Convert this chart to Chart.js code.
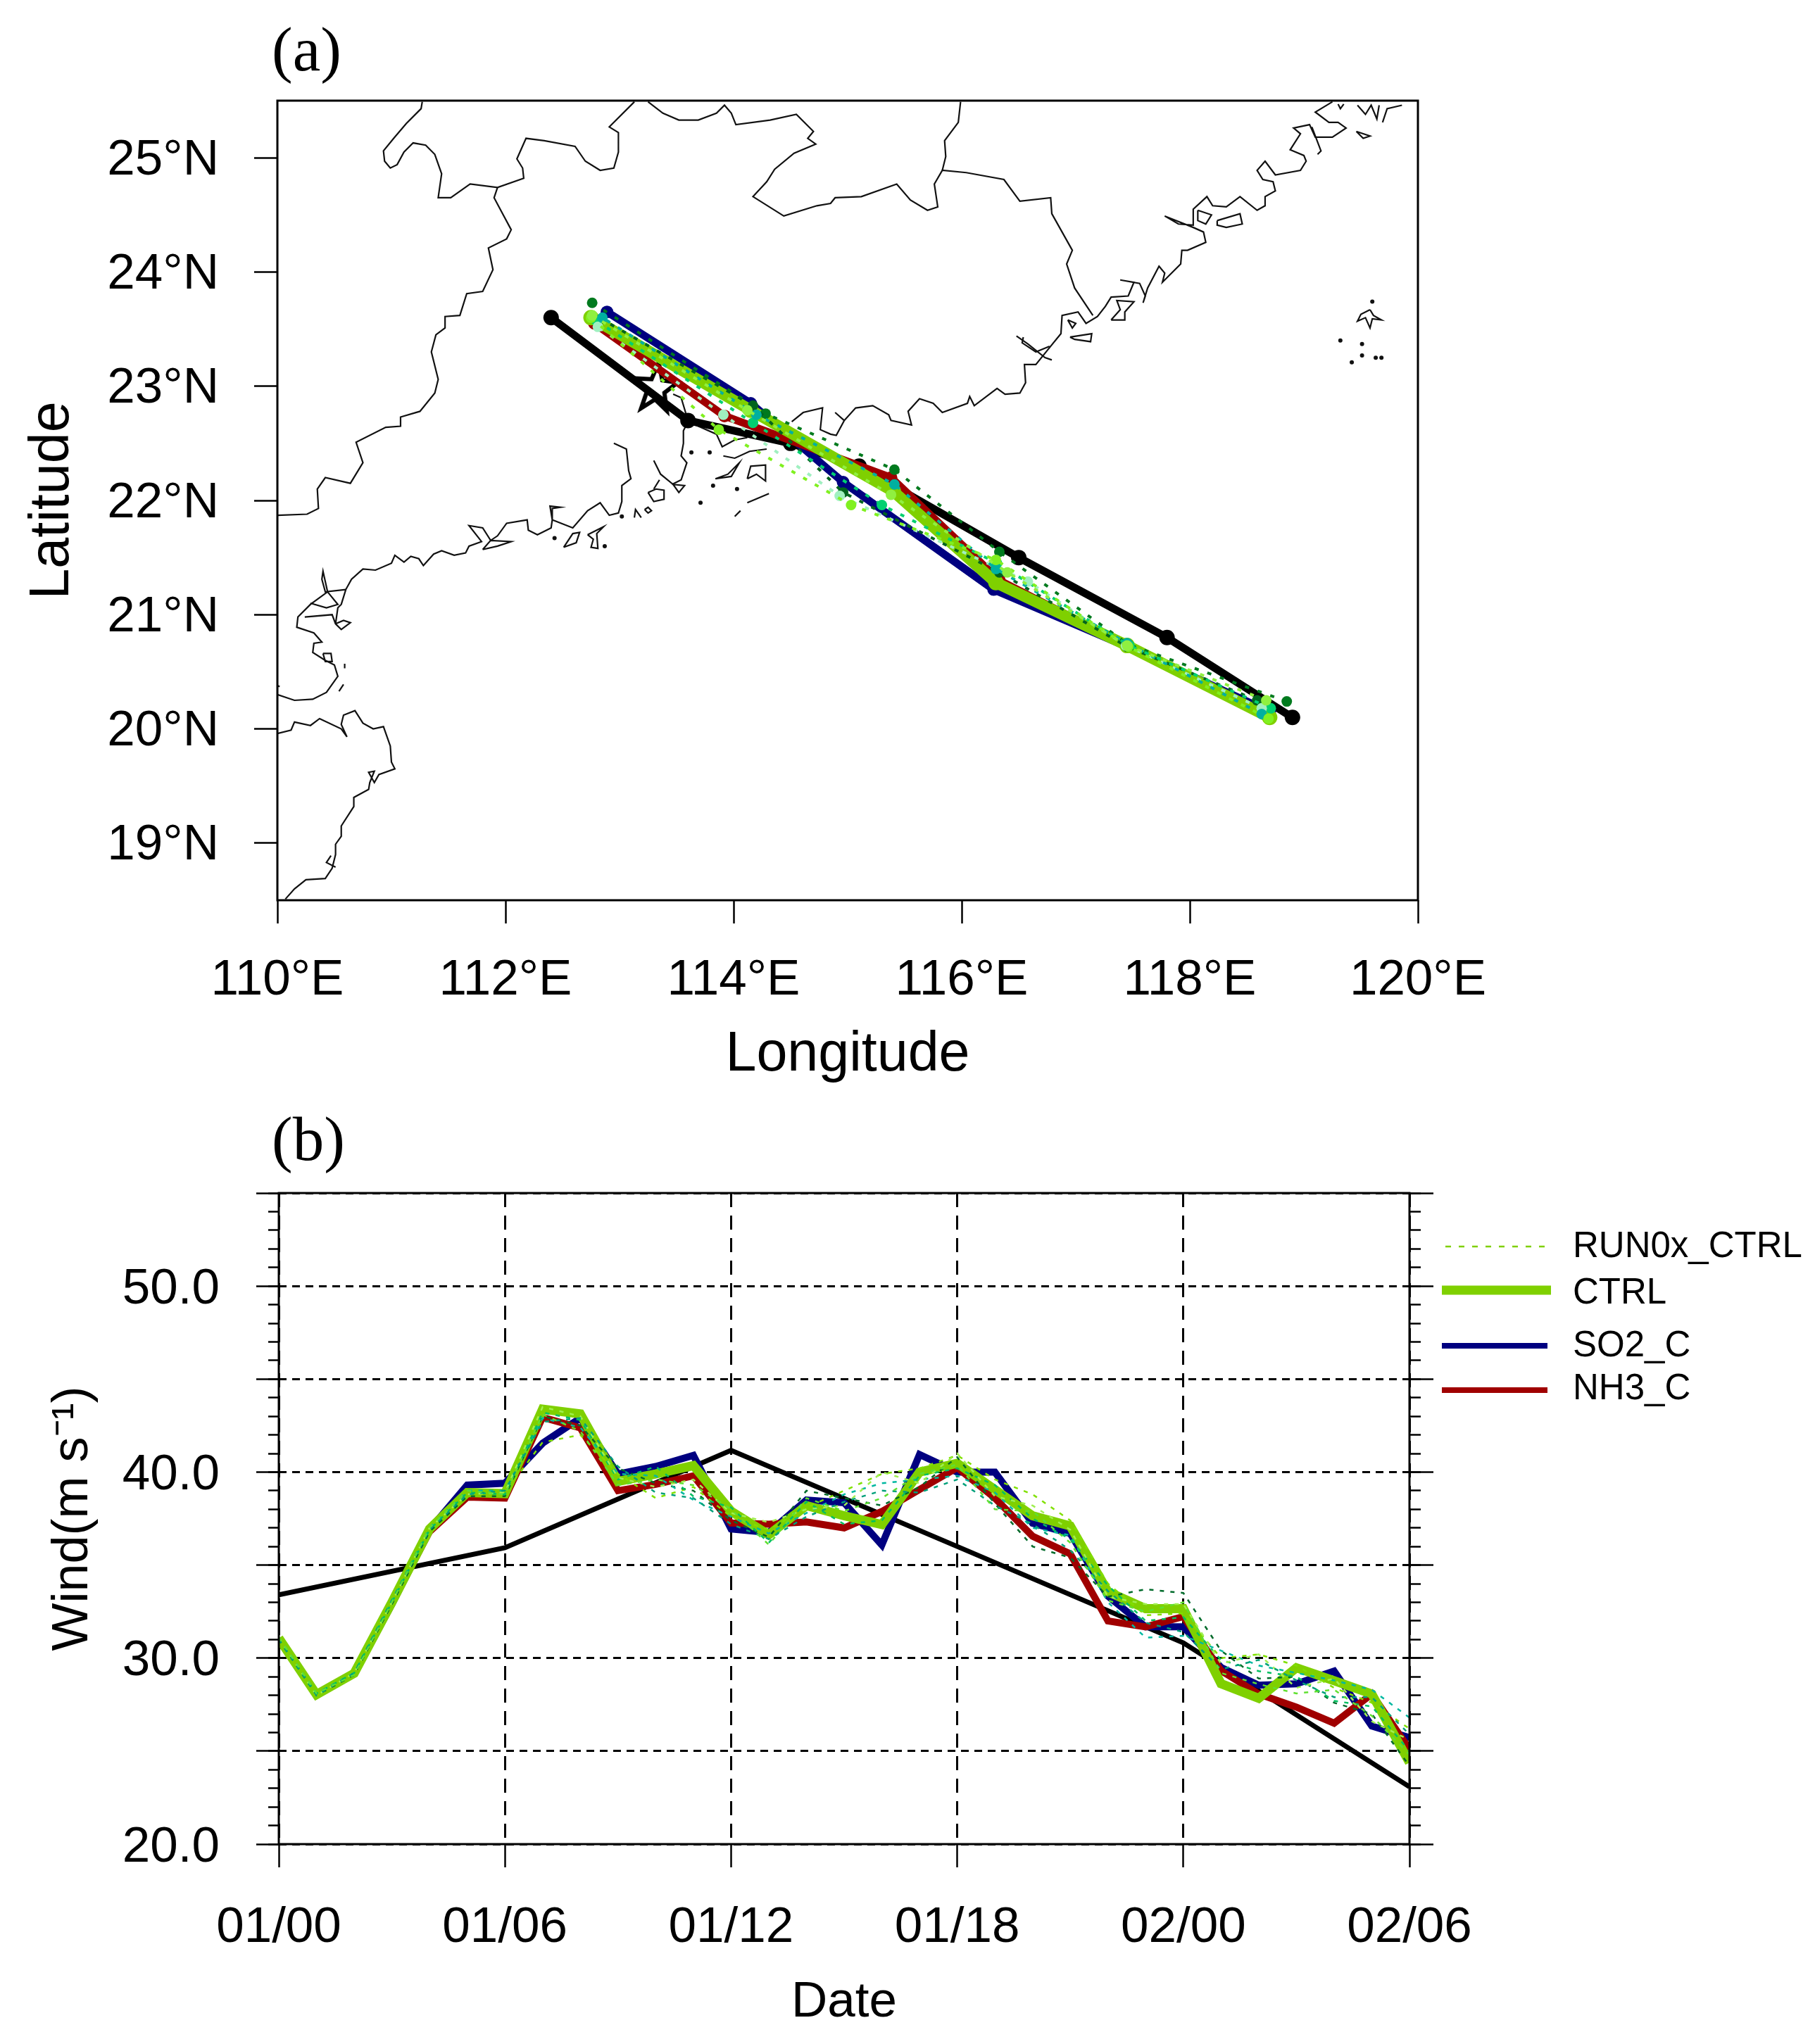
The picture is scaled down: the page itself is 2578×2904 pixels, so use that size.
<!DOCTYPE html>
<html>
<head>
<meta charset="utf-8">
<title>Track and wind</title>
<script src="https://cdn.jsdelivr.net/npm/chart.js@4/dist/chart.umd.js"></script>
<style>
    html, body { margin: 0; padding: 0; background: #fff; }
    canvas { position: absolute; left: 0; }
    #trackChart { top: 0; }
    #windChart { top: 1560px; }
</style>
</head>
<body>
<canvas id="trackChart" width="2578" height="1580"></canvas>
<canvas id="windChart" width="2578" height="1344"></canvas>
<script>
// --- tick labels ---
const lonTicks = [110, 112, 114, 116, 118, 120];
const latTicks = [19, 20, 21, 22, 23, 24, 25];
const dateLabels = ['01/00', '01/06', '01/12', '01/18', '02/00', '02/06'];
const seriesNames = ['RUN0x_CTRL', 'CTRL', 'SO2_C', 'NH3_C'];

// --- panel (a) tracks, lon / lat every 6 h ---
const obsLon = [118.9, 117.8, 116.5, 115.1, 114.5, 113.6, 112.4];
const obsLat = [20.1, 20.8, 21.5, 22.3, 22.5, 22.7, 23.6];
const ctrlLon = [118.7, 117.45, 116.3, 115.4, 114.15, 112.75];
const ctrlLat = [20.1, 20.73, 21.28, 22.08, 22.79, 23.6];
const so2Lon = [118.7, 117.45, 116.28, 114.96, 114.15, 112.89];
const so2Lat = [20.15, 20.72, 21.22, 22.16, 22.85, 23.65];
const nh3Lon = [118.7, 117.45, 116.33, 115.38, 113.92, 112.78];
const nh3Lat = [20.12, 20.73, 21.3, 22.2, 22.74, 23.55];
const landfall = [[113.32, 22.98]];

const runLons = [
    [118.85, 117.46, 116.33, 115.41, 114.28, 112.76],
    [118.59, 117.45, 116.33, 114.96, 114.17, 112.84],
    [118.71, 117.47, 116.31, 115.30, 114.17, 112.80],
    [118.63, 117.44, 116.58, 114.93, 113.91, 112.81],
    [118.63, 117.45, 116.30, 115.41, 114.20, 112.85],
    [118.69, 117.46, 116.30, 115.03, 113.87, 112.75],
    [118.67, 117.45, 116.40, 115.38, 114.12, 112.76]
];
const runLats = [
    [20.24, 20.74, 21.55, 22.27, 22.76, 23.73],
    [20.25, 20.72, 21.37, 22.07, 22.83, 23.59],
    [20.18, 20.73, 21.45, 21.96, 22.68, 23.57],
    [20.18, 20.73, 21.29, 22.04, 22.75, 23.52],
    [20.13, 20.75, 21.40, 22.14, 22.75, 23.60],
    [20.09, 20.72, 21.48, 21.96, 22.62, 23.60],
    [20.25, 20.73, 21.37, 22.05, 22.79, 23.62]
];
const runColors = ['#007a1e', '#00641e', '#00d070', '#a0f0c0', '#00b0a0', '#80f020', '#90f040'];

// --- panel (a) map, [lon, lat] ---
const borderNorthWest = [[111.27,25.49],[111.26,25.43],[111.13,25.30],[111.02,25.17],[110.93,25.06],[110.94,24.97],[110.99,24.91],[111.05,24.94],[111.11,25.05],[111.19,25.13],[111.30,25.11],[111.38,25.03],[111.44,24.86],[111.41,24.65],[111.52,24.65],[111.69,24.77],[111.93,24.74],[112.16,24.82],[112.15,24.91],[112.10,24.99],[112.18,25.17],[112.34,25.15],[112.61,25.10],[112.70,24.97],[112.83,24.89],[112.95,24.91],[112.99,25.05],[112.99,25.22],[112.91,25.27],[113.13,25.49]];
const borderNorth = [[113.25,25.49],[113.38,25.39],[113.52,25.33],[113.69,25.33],[113.85,25.39],[113.92,25.46],[113.98,25.39],[114.02,25.29],[114.32,25.33],[114.55,25.38],[114.70,25.23],[114.65,25.17],[114.72,25.12],[114.53,25.04],[114.36,24.90],[114.29,24.79],[114.17,24.66],[114.44,24.49],[114.73,24.58],[114.85,24.60],[114.89,24.65],[115.12,24.66],[115.43,24.77],[115.55,24.63],[115.70,24.54],[115.79,24.57],[115.76,24.77],[115.83,24.89],[116.04,24.87],[116.37,24.81],[116.51,24.62],[116.78,24.65],[116.79,24.51],[116.97,24.19],[116.92,24.07],[116.99,23.86],[117.15,23.62]];
const borderNorthEast = [[115.83,24.89],[115.86,25.01],[115.85,25.15],[115.97,25.31],[115.99,25.49]];
const borderWest = [[111.93,24.74],[111.90,24.65],[111.98,24.50],[112.05,24.37],[112.01,24.29],[111.85,24.21],[111.89,24.02],[111.80,23.83],[111.66,23.81],[111.60,23.62],[111.47,23.61],[111.47,23.51],[111.39,23.45],[111.35,23.30],[111.41,23.06],[111.38,22.94],[111.25,22.78],[111.08,22.73],[111.08,22.65],[110.95,22.64],[110.69,22.51],[110.75,22.33],[110.64,22.15],[110.42,22.20],[110.35,22.10],[110.36,21.93],[110.26,21.88],[110.00,21.87]];
const coastWest = [[112.95,22.50],[113.06,22.45],[113.08,22.26],[113.10,22.19],[113.02,22.13],[113.02,21.99],[112.99,21.89],[112.91,21.87],[112.83,21.98],[112.72,21.91],[112.59,21.76],[112.41,21.83],[112.41,21.93],[112.48,21.94],[112.39,21.95],[112.41,21.83],[112.40,21.76],[112.28,21.70],[112.20,21.74],[112.19,21.83],[112.01,21.80],[111.93,21.69],[111.87,21.65],[111.80,21.76],[111.68,21.78],[111.79,21.64],[111.68,21.60],[111.65,21.54],[111.55,21.52],[111.44,21.56],[111.37,21.53],[111.28,21.43],[111.24,21.49],[111.17,21.51],[111.11,21.46],[111.03,21.52],[111.00,21.45],[110.86,21.39],[110.75,21.40],[110.65,21.31],[110.60,21.22],[110.56,21.09],[110.53,21.06],[110.51,20.92]];
const coastLeizhou = [[110.60,21.22],[110.42,21.20],[110.39,21.31],[110.40,21.38],[110.44,21.20],[110.29,21.09],[110.18,20.98],[110.17,20.89],[110.32,20.84],[110.39,20.76],[110.32,20.75],[110.31,20.67],[110.42,20.60],[110.50,20.56],[110.53,20.46],[110.43,20.32],[110.31,20.26],[110.15,20.25],[110.00,20.30]];
const coastLeizhouInner = [[110.24,20.98],[110.48,21.00],[110.51,20.92],[110.56,20.87],[110.64,20.93],[110.58,20.95],[110.51,20.92]];
const coastLeizhouBay = [[110.29,21.10],[110.43,21.06],[110.53,21.09],[110.44,21.20]];
const coastHainan = [[110.00,19.96],[110.12,19.99],[110.15,20.06],[110.29,20.03],[110.37,20.09],[110.56,20.00],[110.61,19.93],[110.56,20.04],[110.58,20.12],[110.68,20.16],[110.75,20.05],[110.84,20.00],[110.93,20.02],[110.99,19.85],[111.00,19.71],[111.03,19.65],[110.89,19.60],[110.85,19.53],[110.80,19.62],[110.85,19.63],[110.81,19.53],[110.80,19.47],[110.67,19.40],[110.67,19.32],[110.56,19.15],[110.56,19.06],[110.51,18.99],[110.51,18.90],[110.48,18.78],[110.42,18.69],[110.25,18.68],[110.15,18.60],[110.07,18.51]];
const coastEstuaryEast = [[113.60,22.69],[113.56,22.61],[113.56,22.50],[113.54,22.39],[113.59,22.33],[113.54,22.18],[113.46,22.14]];
const coastEstuaryWest = [[113.30,22.35],[113.36,22.23],[113.47,22.14],[113.57,22.13],[113.52,22.07],[113.47,22.14]];
const coastEstuaryUp = [[113.47,22.93],[113.54,22.90],[113.60,22.70]];
const coastHongKong = [[113.60,22.69],[113.85,22.58],[113.90,22.47],[114.01,22.53],[114.12,22.55]];
const coastEast1 = [[114.51,22.69],[114.61,22.77],[114.78,22.81],[114.76,22.62],[114.85,22.58],[114.90,22.57],[114.97,22.70],[114.89,22.77],[114.97,22.70],[115.07,22.81],[115.22,22.83],[115.36,22.75],[115.38,22.70],[115.56,22.66],[115.53,22.78],[115.63,22.89],[115.75,22.85],[115.83,22.77],[116.05,22.85],[116.07,22.91],[116.11,22.83],[116.31,22.98],[116.38,22.93],[116.51,22.94],[116.56,23.03],[116.55,23.19],[116.65,23.19],[116.78,23.35],[116.87,23.46],[116.88,23.62],[117.02,23.65],[117.09,23.55],[117.19,23.61],[117.26,23.70],[117.31,23.78],[117.46,23.79],[117.51,23.91],[117.39,23.93],[117.56,23.90],[117.61,23.79],[117.59,23.73],[117.63,23.86],[117.73,24.05],[117.78,23.99],[117.76,23.91],[117.92,24.07],[117.93,24.19],[117.98,24.19],[118.14,24.26],[118.12,24.35],[118.03,24.39],[117.78,24.49],[117.90,24.42],[118.03,24.41],[118.03,24.55],[118.15,24.66],[118.20,24.58],[118.32,24.57],[118.44,24.66],[118.59,24.54],[118.66,24.58],[118.66,24.66],[118.75,24.71],[118.73,24.79],[118.64,24.81],[118.59,24.89],[118.66,24.97],[118.75,24.85],[118.97,24.89],[119.02,24.97],[119.00,25.02],[118.88,25.07],[118.97,25.21],[118.91,25.26],[119.05,25.29],[119.10,25.18],[119.25,25.18],[119.37,25.26],[119.30,25.31],[119.22,25.31],[119.10,25.40],[119.25,25.49]];
const coastShantou1 = [[116.48,23.44],[116.58,23.37],[116.73,23.25],[116.79,23.23]];
const coastShantou2 = [[116.54,23.43],[116.53,23.38],[116.65,23.30],[116.77,23.35]];
const islands = [
    [[110.40,20.66],[110.47,20.66],[110.48,20.59],[110.42,20.59],[110.40,20.66]],
    [[110.59,20.57],[110.59,20.53]],
    [[110.58,20.39],[110.54,20.33]],
    [[110.47,18.89],[110.43,18.83],[110.51,18.79]],
    [[110.00,20.38],[110.02,20.37]],
    [[111.80,21.57],[111.87,21.65],[112.05,21.64],[111.93,21.60],[111.80,21.57]],
    [[112.51,21.59],[112.59,21.71],[112.65,21.72],[112.62,21.63],[112.51,21.59]],
    [[112.72,21.70],[112.86,21.77],[112.80,21.71],[112.81,21.58],[112.75,21.59],[112.77,21.66],[112.72,21.70]],
    [[113.13,21.85],[113.14,21.92],[113.19,21.85]],
    [[113.22,21.92],[113.25,21.94],[113.28,21.91],[113.25,21.89],[113.22,21.92]],
    [[113.25,22.07],[113.30,21.99],[113.39,22.01],[113.39,22.09],[113.32,22.10],[113.25,22.07]],
    [[113.35,22.18],[113.30,22.10]],
    [[113.84,22.19],[113.95,22.23],[114.05,22.33],[113.98,22.21],[113.84,22.19]],
    [[114.12,22.19],[114.15,22.30],[114.28,22.31],[114.28,22.17],[114.20,22.23],[114.12,22.19]],
    [[113.91,22.39],[114.01,22.37],[114.14,22.43],[114.29,22.45]],
    [[114.01,21.86],[114.06,21.91]],
    [[114.12,21.98],[114.31,22.06]],
    [[116.95,23.43],[117.14,23.46],[117.13,23.39],[116.99,23.41],[116.95,23.43]],
    [[116.93,23.58],[117.00,23.55],[116.97,23.51],[116.93,23.58]],
    [[117.31,23.58],[117.39,23.67],[117.36,23.75],[117.51,23.74],[117.43,23.65],[117.43,23.58],[117.31,23.58]],
    [[118.07,24.54],[118.19,24.50],[118.14,24.42],[118.07,24.45],[118.07,24.54]],
    [[118.24,24.45],[118.44,24.51],[118.46,24.42],[118.32,24.39],[118.24,24.41],[118.24,24.45]],
    [[119.07,25.27],[119.15,25.06],[119.12,25.03]],
    [[119.46,25.23],[119.58,25.19],[119.52,25.17],[119.46,25.23]],
    [[119.47,25.46],[119.54,25.38],[119.59,25.46],[119.64,25.34],[119.66,25.46]],
    [[119.69,25.31],[119.73,25.43],[119.86,25.46]],
    [[119.30,25.47],[119.32,25.43],[119.35,25.47]],
    [[119.58,23.67],[119.50,23.63],[119.47,23.57],[119.54,23.60],[119.58,23.51],[119.60,23.59],[119.68,23.58],[119.61,23.62],[119.58,23.67]]
];
const mapDots = [[112.43,21.67],[112.87,21.60],[113.02,21.86],[113.63,22.42],[113.79,22.42],[113.82,22.13],[114.03,22.10],[113.71,21.98],[119.60,23.74],[119.32,23.40],[119.51,23.37],[119.51,23.27],[119.42,23.21],[119.63,23.25],[119.68,23.25]];
const mapLines = [borderNorthWest, borderNorth, borderNorthEast, borderWest, coastWest, coastLeizhou, coastLeizhouInner, coastLeizhouBay, coastHainan, coastEstuaryEast, coastEstuaryWest, coastEstuaryUp, coastHongKong, coastEast1, coastShantou1, coastShantou2].concat(islands);

// --- panel (b) wind, hourly ---
const hours = [0,1,2,3,4,5,6,7,8,9,10,11,12,13,14,15,16,17,18,19,20,21,22,23,24,25,26,27,28,29,30];
const ctrlWind = [31.07,28.04,29.18,33.0,36.94,38.9,38.84,43.38,43.13,39.5,39.9,40.35,37.9,36.63,38.2,37.65,37.18,40.0,40.47,39.06,37.65,37.1,33.57,32.66,32.66,28.62,27.84,29.48,28.78,28.07,24.38];
const so2Wind = [31.0,28.0,29.15,32.9,36.9,39.3,39.4,41.55,42.9,39.9,40.3,40.9,36.94,36.75,38.5,38.35,36.08,40.94,40.0,40.0,37.25,36.7,33.33,31.68,31.68,29.5,28.54,28.62,29.3,26.35,25.72];
const nh3Wind = [31.05,28.02,29.15,32.95,36.8,38.65,38.6,42.94,42.37,39.0,39.34,39.8,37.26,37.2,37.32,37.0,37.88,39.06,40.24,38.6,36.55,35.6,32.0,31.68,32.23,29.33,28.07,27.36,26.5,28.07,25.09];
const obsHours = [0, 6, 12, 18, 24, 30];
const obsWind = [33.4, 35.93, 41.17, 36.0, 30.82, 23.08];
const runWinds = [
    [31.1,28.0,29.2,33.0,36.9,38.8,38.9,41.6,42.0,39.9,38.6,39.2,37.6,36.9,38.1,39.0,39.9,40.2,40.9,39.6,38.8,37.4,34.0,32.3,32.4,30.0,30.2,29.6,28.4,27.6,26.2],
    [31.0,28.0,29.1,32.9,36.8,38.7,38.7,43.0,42.5,40.2,39.4,39.0,37.4,36.5,39.0,38.6,38.2,39.2,40.8,38.3,36.0,35.4,33.3,33.7,33.5,30.4,28.9,29.0,27.6,27.0,24.2],
    [31.1,28.1,29.2,33.1,37.0,39.0,39.0,42.9,42.4,39.9,39.8,38.5,37.6,36.7,37.8,38.8,39.4,39.6,39.8,38.9,37.0,36.6,33.0,31.1,31.2,30.4,29.6,29.2,28.8,28.3,26.8],
    [31.0,28.1,29.2,33.0,36.9,38.9,38.8,43.2,42.8,39.6,40.3,38.7,38.1,36.2,38.4,37.2,37.4,39.8,40.2,39.3,37.5,36.4,33.9,32.0,32.2,29.9,29.3,29.0,27.7,27.4,25.0],
    [31.1,28.0,29.2,33.0,37.0,38.8,38.9,43.5,43.0,39.7,39.2,39.6,37.8,37.3,38.0,38.2,40.0,39.4,41.0,38.7,38.2,36.9,33.3,32.9,32.9,29.7,30.2,28.4,28.9,26.6,25.6],
    [31.0,28.0,29.2,33.1,36.9,38.8,39.0,42.7,42.9,40.3,38.9,38.6,37.2,36.4,37.6,38.4,39.0,38.9,39.6,38.2,37.2,35.8,33.6,31.9,31.4,29.4,29.9,28.8,27.9,27.9,25.9],
    [31.1,28.1,29.1,33.0,37.0,39.0,38.8,43.1,42.2,39.3,39.6,39.3,38.0,36.1,38.6,37.9,38.6,39.9,40.4,38.0,37.9,36.2,33.1,32.5,33.0,29.2,28.6,28.1,28.3,26.9,24.8]
];
const runWindColors = ['#80e000', '#006a2a', '#00b8a0', '#00c060', '#a0f050', '#00a07a', '#60e030'];

const yMajor = [20, 25, 30, 35, 40, 45, 50, 55];
const yMinor = [];
for (let v = 20; v <= 55; v++) yMinor.push(v);

const GREEN = '#7fd000';
const NAVY = '#000080';
const RED = '#a00000';
const SANS = '"Liberation Sans", Arial, sans-serif';
const SERIF = '"Liberation Serif", "Times New Roman", serif';

// helpers
function toPoints(xs, ys) {
    return xs.map((x, i) => ({ x: x, y: ys[i] }));
}
function pairsToPoints(pairs) {
    return pairs.map(p => ({ x: p[0], y: p[1] }));
}
// the layout is pinned so the plot area lands where the reference has it
function pinWidth(w) {
    return s => { s.width = w; s.paddingLeft = s.paddingRight = s.paddingTop = s.paddingBottom = 0; };
}
function pinHeight(h) {
    return s => { s.height = h; s.paddingLeft = s.paddingRight = s.paddingTop = s.paddingBottom = 0; };
}
function useTicks(list) {
    return s => { s.ticks = list.map(v => ({ value: v })); };
}

function makeStar() {
    const c = document.createElement('canvas');
    c.width = 90; c.height = 90;
    const g = c.getContext('2d');
    g.translate(45, 45);
    g.rotate(0.1);
    g.beginPath();
    for (let i = 0; i < 10; i++) {
        const r = i % 2 === 0 ? 1 : 0.42;
        const a = -Math.PI / 2 + i * Math.PI / 5;
        const px = Math.cos(a) * r * 31;
        const py = Math.sin(a) * r * 37;
        if (i === 0) g.moveTo(px, py); else g.lineTo(px, py);
    }
    g.closePath();
    g.lineWidth = 6;
    g.strokeStyle = '#000';
    g.lineJoin = 'miter';
    g.stroke();
    return c;
}

const framePlugin = {
    id: 'frame',
    afterDraw(chart) {
        const a = chart.chartArea;
        const ctx = chart.ctx;
        ctx.save();
        ctx.strokeStyle = '#000';
        ctx.lineWidth = 3;
        ctx.strokeRect(a.left, a.top, a.right - a.left, a.bottom - a.top);
        ctx.restore();
    }
};

function panelLabel(text, x, y) {
    return {
        id: 'panelLabel',
        afterDraw(chart) {
            const ctx = chart.ctx;
            ctx.save();
            ctx.font = '89px ' + SERIF;
            ctx.fillStyle = '#000';
            ctx.textBaseline = 'alphabetic';
            ctx.fillText(text, x, y);
            ctx.restore();
        }
    };
}

const legendPlugin = {
    id: 'sideLegend',
    afterDraw(chart) {
        const ctx = chart.ctx;
        const rows = [
            { color: GREEN, width: 2.5, dash: [8, 11], x0: 2053, x1: 2196, y: 211, base: 226 },
            { color: GREEN, width: 13, dash: [], x0: 2048, x1: 2203, y: 273, base: 292 },
            { color: NAVY, width: 8, dash: [], x0: 2048, x1: 2198, y: 352, base: 367 },
            { color: RED, width: 8, dash: [], x0: 2048, x1: 2198, y: 415, base: 428 }
        ];
        ctx.save();
        rows.forEach((r, i) => {
            ctx.beginPath();
            ctx.strokeStyle = r.color;
            ctx.lineWidth = r.width;
            ctx.setLineDash(r.dash);
            ctx.moveTo(r.x0, r.y);
            ctx.lineTo(r.x1, r.y);
            ctx.stroke();
            ctx.setLineDash([]);
            ctx.font = '51px ' + SANS;
            ctx.fillStyle = '#000';
            ctx.textBaseline = 'alphabetic';
            ctx.fillText(seriesNames[i], 2234, r.base);
        });
        ctx.restore();
    }
};

// Panel (a) datasets
const trackSets = [];
mapLines.forEach(line => {
    trackSets.push({ data: pairsToPoints(line), showLine: true, borderColor: '#111', borderWidth: 2.2, pointRadius: 0, order: 20 });
});
trackSets.push({ data: pairsToPoints(mapDots), showLine: false, pointRadius: 3, pointBackgroundColor: '#111', pointBorderWidth: 0, order: 20 });
trackSets.push({ data: toPoints(obsLon, obsLat), showLine: true, borderColor: '#000', borderWidth: 11, pointRadius: 11, pointBackgroundColor: '#000', pointBorderWidth: 0, order: 10 });
trackSets.push({ data: pairsToPoints(landfall), showLine: false, pointStyle: makeStar(), order: 9 });
trackSets.push({ data: toPoints(so2Lon, so2Lat), showLine: true, borderColor: NAVY, borderWidth: 11, pointRadius: 9, pointBackgroundColor: NAVY, pointBorderWidth: 0, order: 8 });
trackSets.push({ data: toPoints(nh3Lon, nh3Lat), showLine: true, borderColor: RED, borderWidth: 11, pointRadius: 9, pointBackgroundColor: RED, pointBorderWidth: 0, order: 7 });
trackSets.push({ data: toPoints(ctrlLon, ctrlLat), showLine: true, borderColor: GREEN, borderWidth: 16, pointRadius: 11, pointBackgroundColor: GREEN, pointBorderWidth: 0, order: 6 });
runLons.forEach((lons, i) => {
    trackSets.push({
        data: toPoints(lons, runLats[i]), showLine: true, borderColor: runColors[i], borderWidth: 4, borderDash: [6, 13],
        pointRadius: 7.5, pointBackgroundColor: runColors[i], pointBorderWidth: 0, order: 5 - i * 0.1
    });
});

new Chart(document.getElementById('trackChart'), {
    type: 'scatter',
    data: { datasets: trackSets },
    options: {
        responsive: false,
        animation: false,
        events: [],
        layout: { padding: { top: 143, right: 564, left: 0, bottom: 0 } },
        plugins: { legend: { display: false }, tooltip: { enabled: false } },
        scales: {
            x: {
                type: 'linear', min: 110, max: 120,
                afterBuildTicks: useTicks(lonTicks),
                afterFit: pinHeight(301),
                grid: { drawOnChartArea: false, tickLength: 33, tickWidth: 2.5, tickColor: '#000' },
                border: { display: false },
                ticks: { padding: 39, autoSkip: false, maxRotation: 0, color: '#000', font: { family: SANS, size: 71 }, callback: v => v + '°E' },
                title: { display: true, text: 'Longitude', color: '#000', font: { family: SANS, size: 79 }, padding: { top: 0, bottom: 33 } }
            },
            y: {
                type: 'linear', min: 18.5, max: 25.5,
                afterBuildTicks: useTicks(latTicks),
                afterFit: pinWidth(394),
                grid: { drawOnChartArea: false, tickLength: 33, tickWidth: 2.5, tickColor: '#000' },
                border: { display: false },
                ticks: { padding: 50, labelOffset: 4, autoSkip: false, color: '#000', font: { family: SANS, size: 71 }, callback: v => v + '°N' },
                title: { display: true, text: 'Latitude', color: '#000', font: { family: SANS, size: 79 }, padding: { top: 28, bottom: 0 } }
            }
        }
    },
    plugins: [framePlugin, panelLabel('(a)', 386, 100)]
});

// Panel (b) datasets
const windSets = [];
windSets.push({ data: toPoints(obsHours, obsWind), showLine: true, borderColor: '#000', borderWidth: 7, pointRadius: 0, order: 10 });
windSets.push({ data: toPoints(hours, so2Wind), showLine: true, borderColor: NAVY, borderWidth: 10, pointRadius: 0, order: 8 });
windSets.push({ data: toPoints(hours, nh3Wind), showLine: true, borderColor: RED, borderWidth: 10, pointRadius: 0, order: 7 });
windSets.push({ data: toPoints(hours, ctrlWind), showLine: true, borderColor: GREEN, borderWidth: 13, pointRadius: 0, order: 6 });
runWinds.forEach((vals, i) => {
    windSets.push({ data: toPoints(hours, vals), showLine: true, borderColor: runWindColors[i], borderWidth: 2.5, borderDash: [6, 9], pointRadius: 0, order: 5 - i * 0.1 });
});

new Chart(document.getElementById('windChart'), {
    type: 'scatter',
    data: { datasets: windSets },
    options: {
        responsive: false,
        animation: false,
        events: [],
        layout: { padding: { top: 135, right: 0, left: 0, bottom: 0 } },
        plugins: { legend: { display: false }, tooltip: { enabled: false } },
        scales: {
            x: {
                type: 'linear', min: 0, max: 30,
                afterBuildTicks: useTicks(obsHours),
                afterFit: pinHeight(284),
                grid: { color: '#000', lineWidth: 3, tickLength: 33, tickWidth: 2.5, tickColor: '#000' },
                border: { display: false, dash: [20, 12] },
                ticks: { padding: 44, autoSkip: false, maxRotation: 0, color: '#000', font: { family: SANS, size: 71 }, callback: v => dateLabels[v / 6] },
                title: { display: true, text: 'Date', color: '#000', font: { family: SANS, size: 71 }, padding: { top: 0, bottom: 16 } }
            },
            y: {
                type: 'linear', position: 'left', min: 20, max: 55, weight: 1,
                afterBuildTicks: useTicks(yMajor),
                afterFit: pinWidth(396),
                grid: { color: '#000', lineWidth: 3, tickLength: 32, tickWidth: 2.5, tickColor: '#000' },
                border: { display: false, dash: [11, 8] },
                ticks: { padding: 52, labelOffset: 5, autoSkip: false, color: '#000', font: { family: SANS, size: 71 }, callback: v => (v % 10 === 0 ? v.toFixed(1) : '') },
                title: { display: true, text: 'Wind(m s⁻¹)', color: '#000', font: { family: SANS, size: 72 }, padding: { top: 61, bottom: 0 } }
            },
            yMinorLeft: {
                type: 'linear', position: 'left', min: 20, max: 55, weight: 0,
                afterBuildTicks: useTicks(yMinor),
                afterFit: pinWidth(0),
                grid: { drawOnChartArea: false, tickLength: 15, tickWidth: 2.5, tickColor: '#000' },
                border: { display: false },
                ticks: { display: false, autoSkip: false }
            },
            yRight: {
                type: 'linear', position: 'right', min: 20, max: 55, weight: 1,
                afterBuildTicks: useTicks(yMajor),
                afterFit: pinWidth(576),
                grid: { drawOnChartArea: false, tickLength: 34, tickWidth: 2.5, tickColor: '#000' },
                border: { display: false },
                ticks: { display: false, autoSkip: false }
            },
            yMinorRight: {
                type: 'linear', position: 'right', min: 20, max: 55, weight: 0,
                afterBuildTicks: useTicks(yMinor),
                afterFit: pinWidth(0),
                grid: { drawOnChartArea: false, tickLength: 16, tickWidth: 2.5, tickColor: '#000' },
                border: { display: false },
                ticks: { display: false, autoSkip: false }
            }
        }
    },
    plugins: [framePlugin, legendPlugin, panelLabel('(b)', 386, 88)]
});
</script>
</body>
</html>
